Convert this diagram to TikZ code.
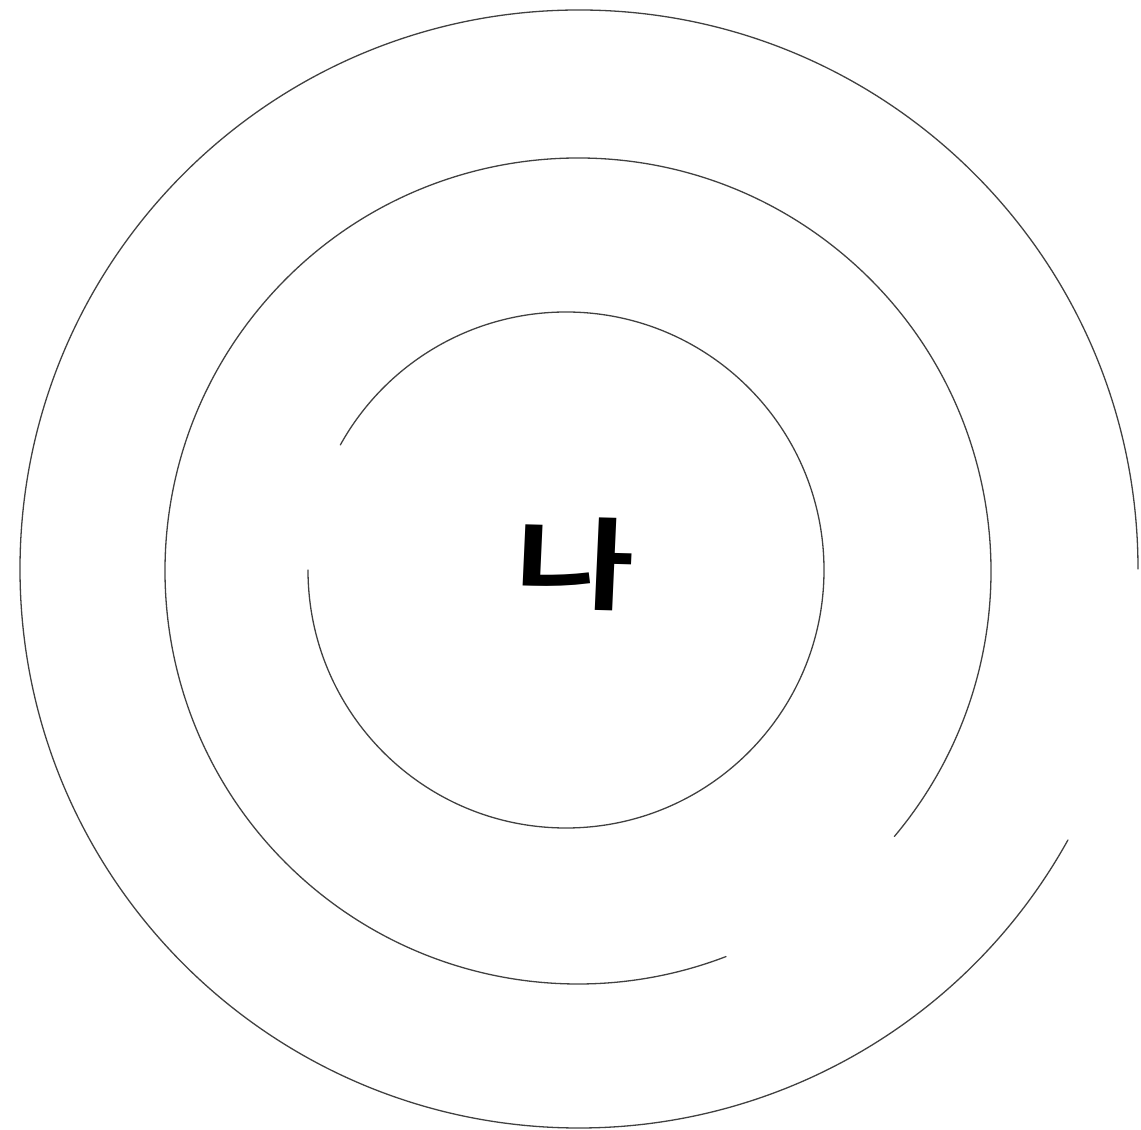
\documentclass[tikz,border=0pt]{standalone}
\usepackage{fontspec}
\newfontfamily\krfont{Noto Sans CJK KR Bold}
\tikzset{ring/.style={draw=black!75, line width=1.3pt, line cap=round}}
\begin{document}
\begin{tikzpicture}[x=1pt,y=1pt]
\useasboundingbox (0,0) rectangle (1141,1130);
% outer
\draw[ring] (579,561) ++(0:559) arc[start angle=0, end angle=331, radius=559];
% middle
\draw[ring] (578,559) ++(-40:413) arc[start angle=-40, end angle=291, radius=413];
% inner
\draw[ring] (566,560) ++(180:258) arc[start angle=180, end angle=511, radius=258];
\node[font=\krfont\fontsize{100}{100}\selectfont, xscale=1.3, rotate=-2, inner sep=0pt] (me) at (575,566) {나};
\end{tikzpicture}
\end{document}
